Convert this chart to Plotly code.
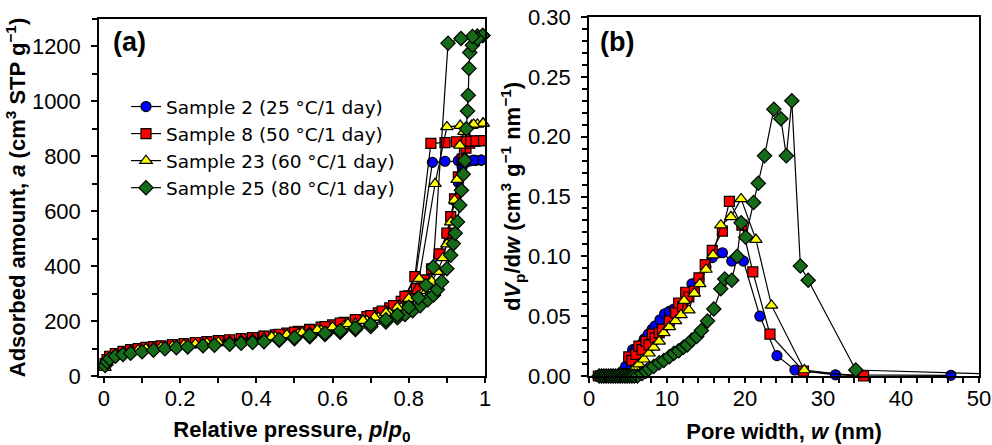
import plotly.graph_objects as go

# ---------------- Panel (a): N2 isotherms ----------------
names = ["Sample 2 (25 °C/1 day)", "Sample 8 (50 °C/1 day)",
         "Sample 23 (60 °C/1 day)", "Sample 25 (80 °C/1 day)"]

s2_ads_p = [0.003, 0.008, 0.015, 0.03, 0.05, 0.07, 0.09, 0.11, 0.13, 0.15, 0.18, 0.21, 0.24, 0.27, 0.3,
            0.33, 0.36, 0.39, 0.42, 0.45, 0.48, 0.51, 0.54, 0.57, 0.6, 0.63, 0.66, 0.69, 0.72, 0.75,
            0.78, 0.8, 0.82, 0.84, 0.86, 0.88, 0.9, 0.91, 0.92, 0.93, 0.94, 0.95, 0.96, 0.975, 0.99]
s2_ads_a = [42, 57, 69, 80, 88, 94, 98, 102, 105, 108, 112, 116, 120, 123, 127,
            130, 134, 138, 142, 147, 153, 159, 166, 173, 181, 190, 199, 210, 224, 242,
            266, 286, 312, 345, 385, 440, 515, 575, 640, 705, 760, 778, 783, 785, 786]
s2_des_p = [0.99, 0.97, 0.95, 0.93, 0.895, 0.862, 0.818, 0.79, 0.76, 0.73, 0.7, 0.66, 0.62, 0.58, 0.54, 0.5, 0.46, 0.42]
s2_des_a = [786, 786, 785, 784, 782, 778, 362, 285, 252, 232, 216, 202, 190, 177, 167, 158, 150, 143]

s8_ads_p = s2_ads_p
s8_ads_a = [45, 60, 72, 82, 90, 96, 100, 104, 107, 110, 114, 118, 122, 125, 129,
            132, 136, 140, 144, 150, 156, 163, 170, 178, 186, 195, 204, 216, 230, 248,
            272, 292, 318, 350, 390, 445, 520, 580, 645, 725, 790, 830, 848, 855, 857]
s8_des_p = [0.99, 0.97, 0.95, 0.925, 0.895, 0.858, 0.816, 0.79, 0.76, 0.73, 0.7, 0.66, 0.62, 0.58, 0.54, 0.5, 0.46, 0.42]
s8_des_a = [857, 856, 855, 853, 850, 847, 362, 290, 256, 236, 220, 205, 193, 180, 169, 160, 152, 145]

s23_ads_p = [0.003, 0.008, 0.015, 0.03, 0.05, 0.07, 0.09, 0.11, 0.13, 0.15, 0.18, 0.21, 0.24, 0.27, 0.3,
             0.33, 0.36, 0.39, 0.42, 0.45, 0.48, 0.51, 0.54, 0.57, 0.6, 0.63, 0.66, 0.69, 0.72, 0.75,
             0.78, 0.8, 0.82, 0.84, 0.86, 0.875, 0.89, 0.9, 0.91, 0.92, 0.927, 0.934, 0.945, 0.965, 0.98, 0.995]
s23_ads_a = [30, 50, 64, 76, 85, 91, 95, 99, 102, 105, 109, 113, 116, 120, 123,
             127, 130, 134, 138, 142, 147, 153, 159, 166, 174, 182, 191, 201, 213, 228,
             248, 265, 285, 310, 345, 380, 430, 480, 560, 640, 715, 840, 890, 912, 916, 920]
s23_des_p = [0.995, 0.97, 0.935, 0.9, 0.869, 0.827, 0.8, 0.77, 0.74, 0.71, 0.68, 0.64, 0.6, 0.56, 0.52, 0.48, 0.44]
s23_des_a = [920, 916, 912, 907, 700, 355, 282, 250, 230, 214, 202, 190, 178, 168, 158, 150, 142]

s25_ads_p = [0.003, 0.008, 0.015, 0.03, 0.05, 0.07, 0.1, 0.13, 0.16, 0.19, 0.22, 0.26, 0.29, 0.33, 0.36,
             0.39, 0.42, 0.46, 0.5, 0.54, 0.58, 0.62, 0.66, 0.7, 0.74, 0.77, 0.79, 0.81, 0.83, 0.85,
             0.865, 0.875, 0.886, 0.9, 0.91, 0.917, 0.922, 0.928, 0.934, 0.938, 0.943, 0.947, 0.951,
             0.954, 0.956, 0.958, 0.96, 0.967, 0.98, 0.994]
s25_ads_a = [38, 52, 63, 72, 78, 83, 88, 94, 99, 103, 106, 110, 112, 116, 119,
             122, 125, 130, 136, 143, 151, 159, 169, 180, 197, 212, 224, 238, 256, 278,
             295, 315, 343, 391, 440, 482, 520, 561, 622, 676, 735, 785, 900,
             965, 1022, 1120, 1178, 1204, 1238, 1240]
s25_des_p = [0.994, 0.98, 0.967, 0.937, 0.903, 0.864, 0.845, 0.825, 0.8, 0.77, 0.74, 0.7, 0.66, 0.62, 0.58, 0.54, 0.5, 0.46]
s25_des_a = [1240, 1228, 1236, 1229, 1212, 397, 330, 285, 250, 222, 205, 188, 175, 165, 156, 148, 140, 133]

# ---------------- Panel (b): pore size distributions ----------------
s2_w = [1.3, 1.6, 1.9, 2.2, 2.5, 2.8, 3.1, 3.4, 3.7, 4.0, 4.3, 4.7, 5.1, 5.6, 6.0, 6.4, 6.8, 7.1, 7.6, 8.1,
        8.5, 9.1, 9.7, 10.3, 10.9, 11.8, 12.4, 13.2, 14.1, 15.0, 15.8, 17.1, 18.3, 19.8, 21.9, 24.1,
        26.4, 31.6, 46.4]
s2_v = [0, 0, 0, 0, 0, 0, 0, 0, 0, 0.001, 0.004, 0.008, 0.014, 0.022, 0.022, 0.024, 0.027, 0.031, 0.035,
        0.039, 0.042, 0.047, 0.052, 0.054, 0.056, 0.061, 0.067, 0.077, 0.081, 0.091, 0.099, 0.103, 0.096,
        0.096, 0.050, 0.017, 0.005, 0.001, 0.0006]

s8_w = [1.2, 1.5, 1.8, 2.1, 2.4, 2.7, 3.0, 3.3, 3.6, 3.9, 4.2, 4.7, 5.1, 5.5, 6.0, 6.4, 6.8, 7.3, 7.7,
        8.1, 8.5, 9.0, 9.4, 10.3, 11.1, 11.5, 12.0, 12.4, 12.8, 13.5, 14.1, 14.9, 15.8, 17.1, 18.0,
        19.6, 21.0, 23.2, 27.5, 35.2]
s8_v = [0, 0, 0, 0, 0, 0, 0, 0, 0, 0, 0, 0.002, 0.016, 0.013, 0.018, 0.025, 0.022, 0.029, 0.026,
        0.035, 0.032, 0.036, 0.039, 0.046, 0.053, 0.061, 0.058, 0.070, 0.066, 0.071, 0.082, 0.093,
        0.105, 0.121, 0.146, 0.126, 0.087, 0.035, 0.004, 0.0]

s23_w = [1.3, 1.6, 1.9, 2.2, 2.5, 2.8, 3.1, 3.4, 3.7, 4.0, 4.3, 4.6, 4.9, 5.3, 5.5, 5.9, 6.4, 7.05,
         7.7, 8.3, 9.0, 9.6, 10.3, 11.1, 11.8, 12.2, 12.8, 13.5, 14.2, 15.0, 15.9, 16.9, 18.2, 19.5,
         21.4, 23.4, 27.6, 35.3]
s23_v = [0, 0, 0, 0, 0, 0, 0, 0, 0, 0, 0, 0, 0, 0, 0.004, 0.007, 0.010, 0.014,
         0.019, 0.024, 0.029, 0.036, 0.041, 0.046, 0.051, 0.063, 0.055, 0.069, 0.077, 0.089, 0.101,
         0.126, 0.133, 0.148, 0.114, 0.059, 0.005, -0.001]

s25_w = [1.3, 1.6, 1.9, 2.2, 2.5, 2.8, 3.1, 3.4, 3.7, 4.0, 4.3, 4.6, 4.9, 5.2, 5.5, 5.8, 6.2, 6.8,
         7.3, 7.7, 8.3, 9.0, 9.6, 10.3, 10.9, 11.5, 12.1, 12.6, 13.2, 13.8, 14.4, 15.2, 16.0, 16.9,
         17.4, 18.3, 19.0, 19.5, 20.1, 21.1, 21.7, 22.5, 23.7, 24.6, 25.3, 26.0, 27.1, 28.1, 34.2, 60.0]
s25_v = [0, 0, 0, 0, 0, 0, 0, 0, 0, 0, 0, 0, 0, 0, 0, 0, 0, 0.002,
         0.004, 0.006, 0.008, 0.011, 0.013, 0.016, 0.019, 0.021, 0.024, 0.026, 0.030, 0.033, 0.038,
         0.046, 0.056, 0.073, 0.081, 0.080, 0.100, 0.128, 0.116, 0.145, 0.161, 0.184, 0.223, 0.215,
         0.184, 0.230, 0.092, 0.080, 0.005, 0.0]

colors = ["#0000FF", "#FF0000", "#FFFF00", "#156B18"]
symbols = ["circle", "square", "triangle-up", "diamond"]
sizes = [10, 10, 11, 11]

iso = [(s2_ads_p + s2_des_p, s2_ads_a + s2_des_a),
       (s8_ads_p + s8_des_p, s8_ads_a + s8_des_a),
       (s23_ads_p + s23_des_p, s23_ads_a + s23_des_a),
       (s25_ads_p + s25_des_p, s25_ads_a + s25_des_a)]
psd = [(s2_w, s2_v), (s8_w, s8_v), (s23_w, s23_v), (s25_w, s25_v)]

FONT = "Liberation Sans, Arial, sans-serif"
LEG_FONT = "DejaVu Sans, sans-serif"
fig = go.Figure()

for i in range(4):
    x, y = iso[i]
    fig.add_trace(go.Scatter(
        x=x, y=y, mode="lines+markers", name=names[i], legendgroup=names[i],
        line=dict(color="black", width=1.2),
        marker=dict(symbol=symbols[i], size=sizes[i], color=colors[i], opacity=1,
                    line=dict(color="black", width=1.2)),
        cliponaxis=False, xaxis="x", yaxis="y", showlegend=True))

x_max_b = 50
for i in range(4):
    x, y = psd[i]
    msize = [sizes[i] if xv <= x_max_b else 0 for xv in x]
    fig.add_trace(go.Scatter(
        x=x, y=y, mode="lines+markers", name=names[i], legendgroup=names[i],
        line=dict(color="black", width=1.2),
        marker=dict(symbol=symbols[i], size=msize, color=colors[i], opacity=1,
                    line=dict(color="black", width=1.2)),
        cliponaxis=False, xaxis="x2", yaxis="y2", showlegend=False))

base_axis = dict(showline=True, linecolor="black", linewidth=1.5, mirror=True,
                 ticks="outside", tickwidth=1.5, tickcolor="black",
                 showgrid=False, zeroline=False, automargin=False,
                 tickfont=dict(family=FONT, size=22, color="black"))
x_axis_common = dict(base_axis, ticklen=5, ticklabelstandoff=-3)
y_axis_common = dict(base_axis, ticklen=6, ticklabelstandoff=6)
title_font = dict(family=FONT, size=22, color="black")
minor_common = dict(ticks="outside", ticklen=5, tickwidth=1.5, tickcolor="black", showgrid=False)

fig.update_layout(
    width=992, height=445,
    margin=dict(l=0, r=0, t=0, b=0, autoexpand=False),
    paper_bgcolor="white", plot_bgcolor="white",
    xaxis=dict(domain=[99/992, 485/992], range=[-0.013, 1.0],
               tickvals=[0, 0.2, 0.4, 0.6, 0.8, 1], ticktext=["0", "0.2", "0.4", "0.6", "0.8", "1"],
               minor=dict(dtick=0.1, tick0=0, **minor_common),
               title=dict(text="<b>Relative pressure, <i>p</i>/<i>p</i><sub>0</sub></b>", font=title_font, standoff=13),
               anchor="y", **x_axis_common),
    yaxis=dict(domain=[69/445, 426/445], range=[0, 1300], dtick=200, tick0=0,
               minor=dict(dtick=100, tick0=0, **minor_common),
               title=dict(text="<b>Adsorbed amount, <i>a</i> (cm<sup>3</sup> STP g<sup>−1</sup>)</b>", font=title_font, standoff=0),
               anchor="x", **y_axis_common),
    xaxis2=dict(domain=[589/992, 979/992], range=[0, 50], dtick=10, tick0=0,
                minor=dict(dtick=2, tick0=0, **minor_common),
                title=dict(text="<b>Pore width, <i>w</i> (nm)</b>", font=title_font, standoff=13),
                anchor="y2", **x_axis_common),
    yaxis2=dict(domain=[69/445, 428/445], range=[0, 0.30], dtick=0.05, tick0=0, tickformat=".2f",
                minor=dict(dtick=0.01, tick0=0, **minor_common),
                title=dict(text="<b>d<i>V</i><sub>p</sub>/d<i>w</i> (cm<sup>3</sup> g<sup>−1</sup> nm<sup>−1</sup>)</b>", font=title_font, standoff=0),
                anchor="x2", **y_axis_common),
    legend=dict(x=126/992, y=1 - 88/445, xanchor="left", yanchor="top",
                bgcolor="rgba(0,0,0,0)", borderwidth=0, tracegroupgap=0,
                font=dict(family=LEG_FONT, size=18.5, color="black")),
    annotations=[
        dict(text="<b>(a)</b>", xref="paper", yref="paper", x=111/992, y=1 - 42/445,
             xanchor="left", yanchor="middle", showarrow=False,
             font=dict(family=FONT, size=27, color="black")),
        dict(text="<b>(b)</b>", xref="paper", yref="paper", x=598/992, y=1 - 42/445,
             xanchor="left", yanchor="middle", showarrow=False,
             font=dict(family=FONT, size=27, color="black")),
    ],
)

fig.write_html("out.html")
